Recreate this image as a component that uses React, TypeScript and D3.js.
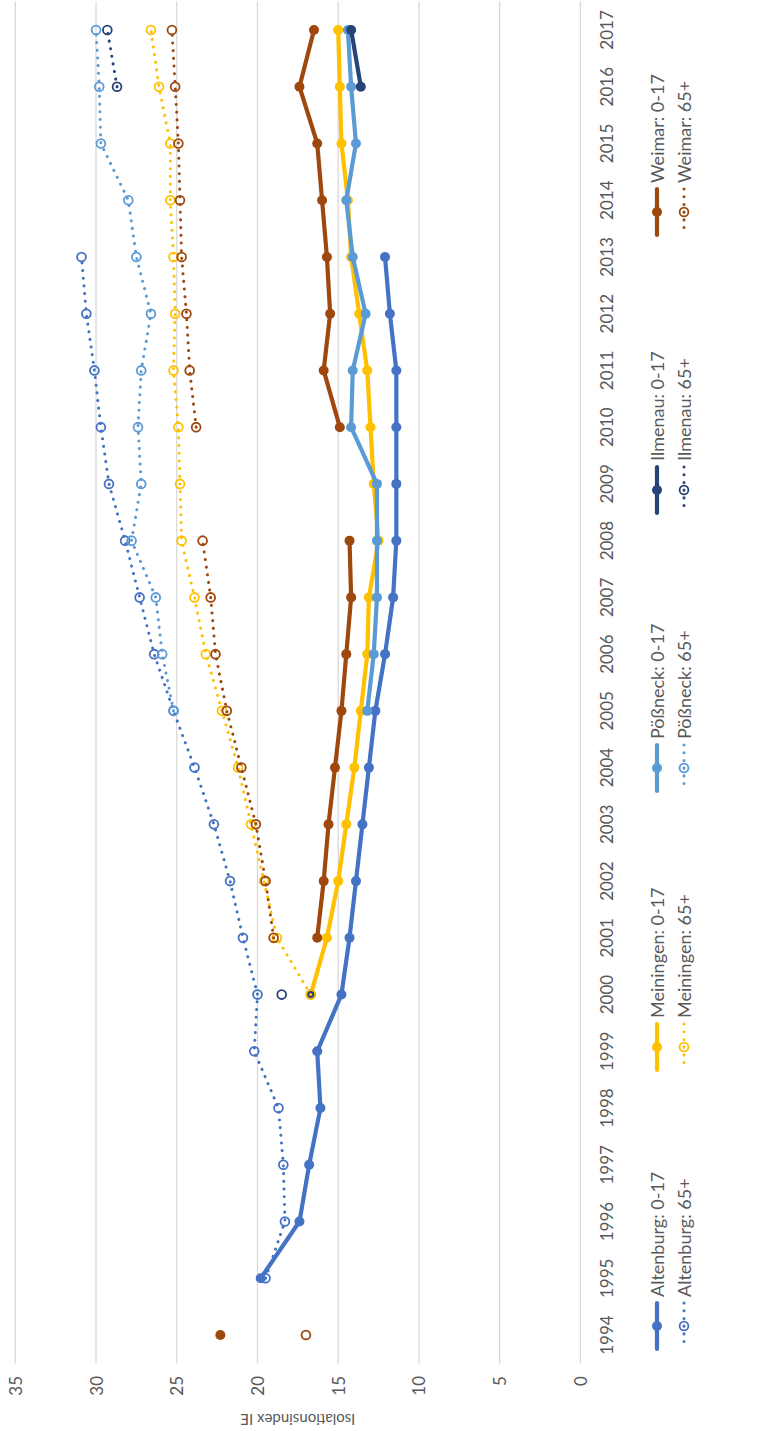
import * as d3 from 'd3';

const W = 766;
const H = 1431;

const years = d3.range(1994, 2018);
const valueTicks = [0, 5, 10, 15, 20, 25, 30, 35];

const n = null;
const altenburg0 = [n, 19.8, 17.4, 16.8, 16.1, 16.3, 14.8, 14.3, 13.9, 13.5, 13.1, 12.7, 12.1, 11.6, 11.4, 11.4, 11.4, 11.4, 11.8, 12.1, n, n, n, n];
const altenburg65 = [n, 19.5, 18.3, 18.4, 18.7, 20.2, 20.0, 20.9, 21.7, 22.7, 23.9, 25.2, 26.4, 27.3, 28.2, 29.2, 29.7, 30.1, 30.6, 30.9, n, n, n, n];
const meiningen0 = [n, n, n, n, n, n, 16.7, 15.7, 15.0, 14.5, 14.0, 13.6, 13.2, 13.1, 12.5, 12.8, 13.0, 13.2, 13.7, 14.2, 14.4, 14.8, 14.9, 15.0];
const meiningen65 = [n, n, n, n, n, n, 16.7, 18.8, 19.6, 20.4, 21.2, 22.2, 23.2, 23.9, 24.7, 24.8, 24.9, 25.2, 25.1, 25.2, 25.4, 25.4, 26.1, 26.6];
const poessneck0 = [n, n, n, n, n, n, n, n, n, n, n, 13.2, 12.8, 12.6, 12.6, 12.6, 14.2, 14.1, 13.3, 14.1, 14.5, 13.9, 14.2, 14.4];
const poessneck65 = [n, n, n, n, n, n, n, n, n, n, n, 25.2, 25.9, 26.3, 27.8, 27.2, 27.4, 27.2, 26.6, 27.5, 28.0, 29.7, 29.8, 30.0];
const ilmenau0 = [n, n, n, n, n, n, 16.7, n, n, n, n, n, n, n, n, n, n, n, n, n, n, n, 13.6, 14.2];
const ilmenau65 = [n, n, n, n, n, n, 18.5, n, n, n, n, n, n, n, n, n, n, n, n, n, n, n, 28.7, 29.3];
const weimar0 = [22.3, n, n, n, n, n, n, 16.3, 15.9, 15.6, 15.2, 14.8, 14.5, 14.2, 14.3, n, 14.9, 15.9, 15.5, 15.7, 16.0, 16.3, 17.4, 16.5];
const weimar65 = [17.0, n, n, n, n, n, n, 19.0, 19.5, 20.1, 21.0, 21.9, 22.6, 22.9, 23.4, n, 23.8, 24.2, 24.4, 24.7, 24.8, 24.9, 25.1, 25.3];

const cities = ['Altenburg', 'Meiningen', 'Pößneck', 'Ilmenau', 'Weimar'];
const colors = ['#4472C4', '#FFC000', '#5B9BD5', '#264478', '#9E480E'];
const young = [altenburg0, meiningen0, poessneck0, ilmenau0, weimar0];
const old = [altenburg65, meiningen65, poessneck65, ilmenau65, weimar65];

const FONT = 'Lato, "Open Sans", sans-serif';
const GREY = '#595959';

export default function App() {
  // chart is drawn rotated: values run right-to-left, years bottom-to-top
  const x = d3.scaleLinear().domain([0, 35]).range([580.4, 15.3]);
  const y = d3.scalePoint<number>().domain(years).range([1363.4, 1.6]).padding(0.5);

  const line = d3
    .line<number | null>()
    .defined(d => d != null)
    .x(d => x(d as number))
    .y((_, i) => y(years[i]) as number);

  const series = [
    ...young.map((vals, i) => ({ vals, color: colors[i], dotted: false })),
    ...old.map((vals, i) => ({ vals, color: colors[i], dotted: true })),
  ];

  const legendY = [1326, 1047, 768, 490, 212];

  return (
    <svg width={W} height={H} style={{ position: 'absolute', left: 0, top: 0, background: '#fff' }}>
      {/* gridlines */}
      {valueTicks.map(t => (
        <line key={t} x1={x(t)} x2={x(t)} y1={1.6} y2={1363.4} stroke="#d9d9d9" strokeWidth={1.3} />
      ))}

      {/* value tick labels */}
      {valueTicks.map(t => (
        <text key={'v' + t} transform={`translate(${x(t)},1376) rotate(-90)`} textAnchor="end"
          dominantBaseline="central" fontFamily={FONT} fontSize={17} fill={GREY}>{t}</text>
      ))}

      {/* year labels */}
      {years.map(yr => (
        <text key={yr} transform={`translate(606,${y(yr)}) rotate(-90)`} textAnchor="middle"
          dominantBaseline="central" fontFamily={FONT} fontSize={17} fill={GREY}>{yr}</text>
      ))}

      <text transform={`translate(${(x(0) + x(35)) / 2},1420) rotate(180)`} textAnchor="middle"
        dominantBaseline="central" fontFamily={FONT} fontSize={15} fill={GREY}>Isolationsindex IE</text>

      {series.map((s, si) => (
        <g key={si}>
          <path d={line(s.vals) || ''} fill="none" stroke={s.color}
            strokeWidth={s.dotted ? 3 : 4.2}
            strokeDasharray={s.dotted ? '0.1 7.6' : undefined}
            strokeLinecap="round" strokeLinejoin="round" />
          {s.vals.map((v, i) =>
            v == null ? null : s.dotted ? (
              <circle key={i} cx={x(v)} cy={y(years[i])} r={4.4} fill="none" stroke={s.color} strokeWidth={1.8} />
            ) : (
              <circle key={i} cx={x(v)} cy={y(years[i])} r={5} fill={s.color} />
            )
          )}
        </g>
      ))}

      {/* legend */}
      {cities.map((c, i) => {
        const cy = legendY[i];
        return (
          <g key={c}>
            <line x1={657} x2={657} y1={cy - 23} y2={cy + 23} stroke={colors[i]} strokeWidth={4.2} strokeLinecap="round" />
            <circle cx={657} cy={cy} r={5} fill={colors[i]} />
            <line x1={684} x2={684} y1={cy - 23} y2={cy + 23} stroke={colors[i]} strokeWidth={3}
              strokeDasharray="0.1 7.6" strokeLinecap="round" />
            <circle cx={684} cy={cy} r={4.4} fill="none" stroke={colors[i]} strokeWidth={1.8} />
            <text transform={`translate(657,${cy - 29}) rotate(-90)`} dominantBaseline="central"
              fontFamily={FONT} fontSize={18} fill={GREY}>{c}: 0-17</text>
            <text transform={`translate(684,${cy - 29}) rotate(-90)`} dominantBaseline="central"
              fontFamily={FONT} fontSize={18} fill={GREY}>{c}: 65+</text>
          </g>
        );
      })}
    </svg>
  );
}
